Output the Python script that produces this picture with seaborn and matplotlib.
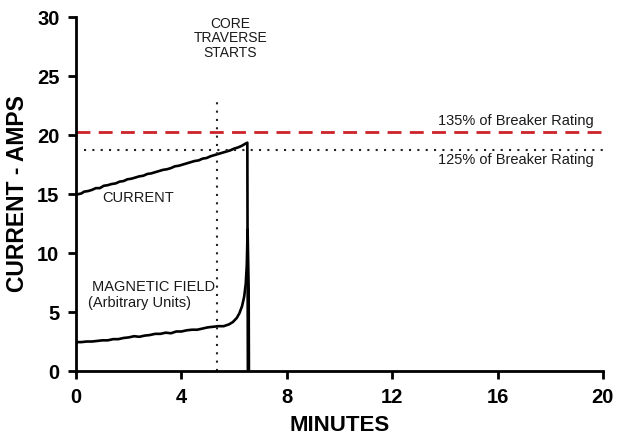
import matplotlib
matplotlib.use("Agg")
import matplotlib.pyplot as plt
import seaborn as sns
import pandas as pd

# ---- data ----
current_t = [0.0, 0.1, 0.2, 0.3, 0.45, 0.6, 0.75, 0.9, 1.05, 1.2, 1.35, 1.5, 1.65, 1.8,
             1.95, 2.1, 2.25, 2.4, 2.55, 2.7, 2.85, 3.0, 3.15, 3.3, 3.45, 3.6, 3.75,
             3.9, 4.05, 4.2, 4.35, 4.5, 4.65, 4.8, 4.95, 5.1, 5.25, 5.4, 5.55, 5.7,
             5.85, 6.0, 6.15, 6.3, 6.45, 6.5, 6.52]
current_a = [14.95, 15.0, 15.05, 15.2, 15.25, 15.35, 15.5, 15.5, 15.7, 15.75, 15.85, 15.9,
             16.05, 16.1, 16.25, 16.3, 16.4, 16.5, 16.55, 16.7, 16.75, 16.85, 16.95, 17.05,
             17.1, 17.2, 17.35, 17.4, 17.5, 17.6, 17.7, 17.8, 17.85, 18.0, 18.05, 18.2,
             18.3, 18.4, 18.5, 18.6, 18.7, 18.85, 18.95, 19.1, 19.3, 19.35, 0.0]

field_t = [0.0, 0.05, 0.2, 0.4, 0.6, 0.8, 1.0, 1.2, 1.4, 1.6, 1.8, 2.0, 2.2, 2.4, 2.6,
           2.8, 3.0, 3.2, 3.4, 3.6, 3.8, 4.0, 4.2, 4.4, 4.6, 4.8, 5.0, 5.2, 5.4, 5.6,
           5.8, 5.95, 6.1, 6.2, 6.3, 6.38, 6.44, 6.48, 6.51, 6.53, 6.55, 6.56]
field_v = [2.3, 2.45, 2.45, 2.5, 2.5, 2.55, 2.6, 2.6, 2.7, 2.7, 2.8, 2.85, 2.95, 2.9,
           3.0, 3.05, 3.15, 3.15, 3.25, 3.2, 3.35, 3.35, 3.45, 3.5, 3.5, 3.6, 3.7,
           3.75, 3.8, 3.8, 3.95, 4.15, 4.5, 4.9, 5.5, 6.3, 7.4, 9.0, 12.0, 9.5, 7.0, 0.0]

limit_135 = 20.25
limit_125 = 18.75
core_start = 5.35

x_ticks = [0, 4, 8, 12, 16, 20]
y_ticks = [0, 5, 10, 15, 20, 25, 30]

# ---- plot ----
sns.set_theme(style="ticks")
plt.rcParams['font.family'] = ['Liberation Sans', 'DejaVu Sans']
plt.rcParams['text.color'] = 'black'
plt.rcParams['axes.labelcolor'] = 'black'
plt.rcParams['xtick.color'] = 'black'
plt.rcParams['ytick.color'] = 'black'

fig = plt.figure(figsize=(6.19, 4.43), dpi=100)
ax = fig.add_axes([0.123, 0.1625, 0.851, 0.799])

cur_df = pd.DataFrame({"t": current_t, "v": current_a})
fld_df = pd.DataFrame({"t": field_t, "v": field_v})
sns.lineplot(data=cur_df, x="t", y="v", sort=False, color="black", lw=1.9, ax=ax)
sns.lineplot(data=fld_df, x="t", y="v", sort=False, color="black", lw=1.9, ax=ax)

ax.plot([0, 20.2], [limit_135, limit_135], color="#cc2229", lw=2,
        linestyle=(0, (5, 3)), clip_on=False)
ax.plot([0.3, 20.1], [limit_125, limit_125], color="#222222", lw=1.5,
        linestyle=(0, (1, 3)), clip_on=False)
ax.plot([core_start, core_start], [0, 23], color="#222222", lw=1.5,
        linestyle=(0, (1, 3)))

txt = "#1a1a1a"
ax.text(5.85, 28.2, "CORE\nTRAVERSE\nSTARTS", ha="center", va="center",
        fontsize=10, color=txt, linespacing=1.05)
ax.text(19.66, 21.2, "135% of Breaker Rating", ha="right", va="center",
        fontsize=10.5, color=txt)
ax.text(19.66, 17.9, "125% of Breaker Rating", ha="right", va="center",
        fontsize=10.5, color=txt)
ax.text(1.0, 14.65, "CURRENT", ha="left", va="center", fontsize=10.5, color=txt)
ax.text(0.6, 7.1, "MAGNETIC FIELD", ha="left", va="center", fontsize=10.5, color=txt)
ax.text(0.45, 5.75, "(Arbitrary Units)", ha="left", va="center", fontsize=10.5, color=txt)

ax.set_xlim(0, 20)
ax.set_ylim(0, 30)
ax.set_xticks(x_ticks)
ax.set_yticks(y_ticks)
ax.tick_params(axis="both", direction="out", length=6, width=2, labelsize=14.5,
               color="black", labelcolor="black", pad=6)
for lab in ax.get_xticklabels() + ax.get_yticklabels():
    lab.set_fontweight("bold")
ax.set_xlabel("MINUTES", fontsize=16, fontweight="bold", labelpad=6, color="black")
ax.set_ylabel("CURRENT - AMPS", fontsize=16.5, fontweight="bold", labelpad=6, color="black")
for s in ["top", "right"]:
    ax.spines[s].set_visible(False)
for s in ["left", "bottom"]:
    ax.spines[s].set_linewidth(2)
    ax.spines[s].set_color("black")

fig.savefig("out.png", dpi=100)
